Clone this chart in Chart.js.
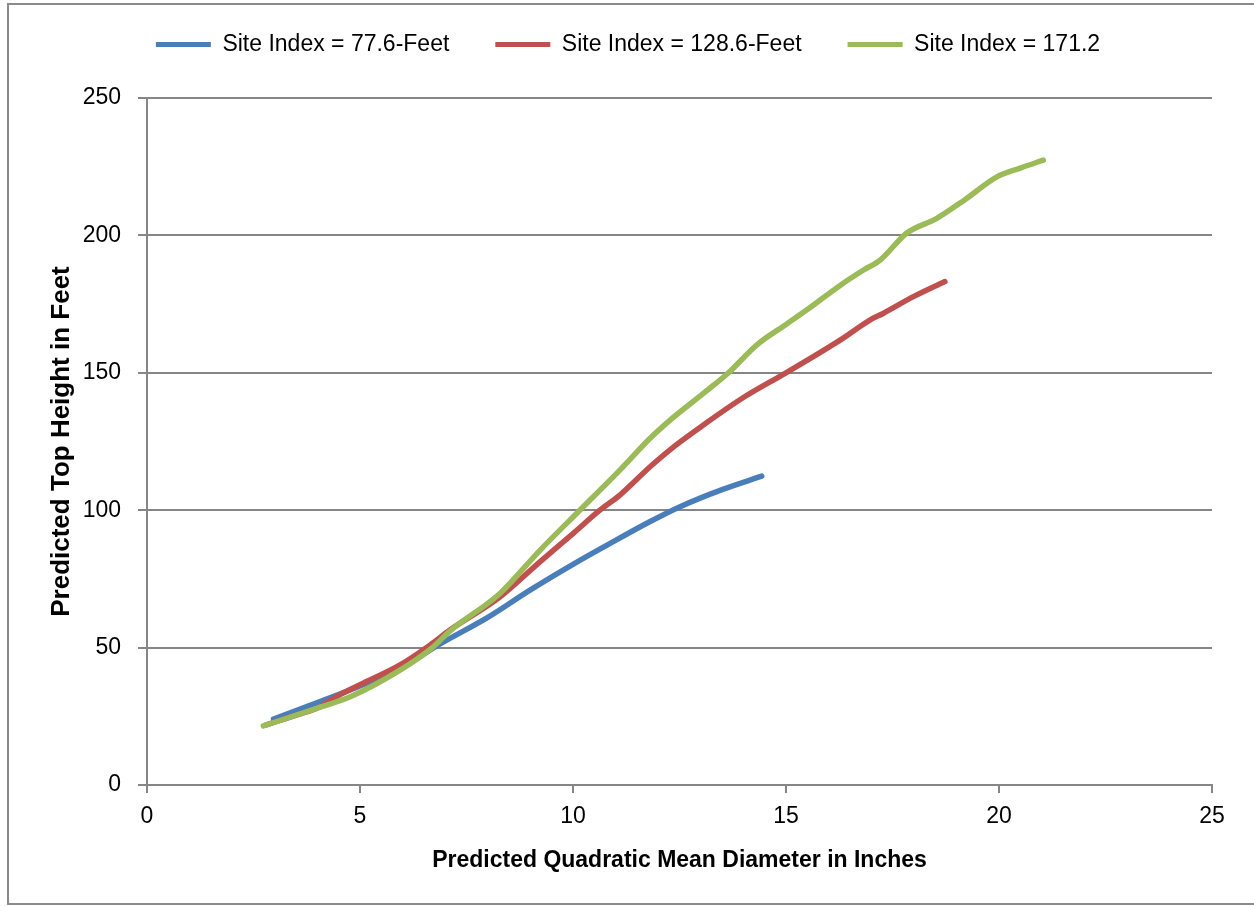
<!DOCTYPE html>
<html>
<head>
<meta charset="utf-8">
<script src="https://cdn.jsdelivr.net/npm/chart.js@4.4.1/dist/chart.umd.min.js"></script>
<style>
  body { margin: 0; background: #fff; }
  #wrap { position: relative; width: 1254px; height: 907px; }
  #frame { position: absolute; left: 7px; top: 3px; width: 1260px; height: 902px; border: 2px solid #8a8a8a; box-sizing: border-box; pointer-events: none; }
</style>
</head>
<body>
<div id="wrap">
  <canvas id="qmdChart" width="1254" height="907"></canvas>
  <div id="frame"></div>
</div>
<script>
// series: x = QMD (inches), y = top height (feet)
const seriesNames = ['Site Index = 77.6-Feet', 'Site Index = 128.6-Feet', 'Site Index = 171.2'];
const seriesColors = ['#4A7EBB', '#C0504D', '#9BBB59'];

const lowX  = [2.97, 4.0, 5.0, 6.0, 6.9, 8.0, 9.0, 10.0, 10.8, 11.8, 12.5, 13.5, 14.43];
const lowY  = [24, 30, 36, 43, 51.5, 61, 71, 80.3, 87.3, 95.8, 101.2, 107.5, 112.4];

const midX  = [2.8, 3.6, 4.0, 4.5, 5.0, 5.94, 6.64, 7.11, 8.29, 9.23, 10.0, 10.63, 11.1, 11.81, 12.4, 13.06, 14.0, 15.0, 16.27, 16.97, 17.28, 17.99, 18.73];
const midY  = [21.9, 25.9, 28, 32.6, 36.5, 43.7, 50.9, 56.4, 68.5, 81.3, 91.5, 100, 105.5, 115.8, 123.5, 131, 141, 150, 161.9, 169.2, 171.6, 177.7, 183.2];

const highX = [2.73, 4.0, 4.77, 5.94, 6.72, 7.11, 8.29, 9.23, 10.16, 11.1, 11.81, 12.28, 13.06, 13.65, 14.31, 15.0, 15.5, 16.27, 16.82, 17.21, 17.83, 18.54, 19.2, 19.95, 20.5, 21.04];
const highY = [21.5, 28, 32.1, 41.8, 50.3, 56, 69.8, 85.5, 100, 114.6, 126.2, 132.8, 142.5, 150, 160.1, 167.6, 173, 181.8, 187.4, 191, 200.8, 206.2, 213, 221.3, 224.5, 227.4];

const xTicks = [0, 5, 10, 15, 20, 25];
const yTicks = [0, 50, 100, 150, 200, 250];

const allX = [lowX, midX, highX];
const allY = [lowY, midY, highY];

const gridGray = '#868686';
const font = "'Liberation Sans', Arial, sans-serif";

// later series drawn on top (like the original), so order counts down
const datasets = seriesNames.map((name, i) => ({
  label: name,
  data: allX[i].map((x, k) => ({ x: x, y: allY[i][k] })),
  borderColor: seriesColors[i],
  backgroundColor: seriesColors[i],
  borderWidth: 5.5,
  borderCapStyle: 'round',
  pointRadius: 0,
  cubicInterpolationMode: 'monotone',
  order: seriesNames.length - i,
  fill: false
}));

// legend sits high, the plot starts lower: give the legend box extra height
const legendSpacer = {
  id: 'legendSpacer',
  afterInit(chart) {
    const lg = chart.legend;
    const origFit = lg.fit;
    lg.fit = function () {
      origFit.call(this);
      this.height += 32;
    };
  }
};

const ctx = document.getElementById('qmdChart').getContext('2d');
new Chart(ctx, {
  type: 'line',
  data: { datasets: datasets },
  plugins: [legendSpacer],
  options: {
    responsive: false,
    animation: false,
    layout: { padding: { left: 44, right: 42, top: -13, bottom: 30 } },
    plugins: {
      tooltip: { enabled: false },
      legend: {
        position: 'top',
        labels: {
          color: '#000',
          font: { family: font, size: 23 },
          boxWidth: 55,
          boxHeight: 5,
          padding: 46,
          generateLabels: chart => Chart.defaults.plugins.legend.labels.generateLabels(chart)
            .map(item => Object.assign(item, { lineWidth: 0 }))
            .sort((a, b) => a.datasetIndex - b.datasetIndex)
        }
      }
    },
    scales: {
      x: {
        type: 'linear',
        min: 0,
        max: 25,
        afterBuildTicks: axis => { axis.ticks = xTicks.map(v => ({ value: v })); },
        afterFit: axis => { axis.height = 92; },
        grid: { drawOnChartArea: false, drawTicks: true, tickLength: 8, tickColor: gridGray, lineWidth: 2 },
        border: { color: gridGray, width: 2 },
        ticks: { color: '#000', font: { family: font, size: 23 }, padding: 10, maxRotation: 0 },
        title: {
          display: true,
          text: 'Predicted Quadratic Mean Diameter in Inches',
          color: '#000',
          font: { family: font, size: 23, weight: 'bold' },
          padding: { top: 10, bottom: 3 }
        }
      },
      y: {
        min: 0,
        max: 250,
        afterBuildTicks: axis => { axis.ticks = yTicks.map(v => ({ value: v })); },
        afterFit: axis => { axis.width = 103; },
        grid: { color: gridGray, lineWidth: 2, tickLength: 9, tickColor: gridGray },
        border: { color: gridGray, width: 2 },
        ticks: { color: '#000', font: { family: font, size: 23 }, padding: 17 },
        title: {
          display: true,
          text: 'Predicted Top Height in Feet',
          color: '#000',
          font: { family: font, size: 26, weight: 'bold' },
          padding: { top: 2, bottom: 4 }
        }
      }
    }
  }
});
</script>
</body>
</html>
